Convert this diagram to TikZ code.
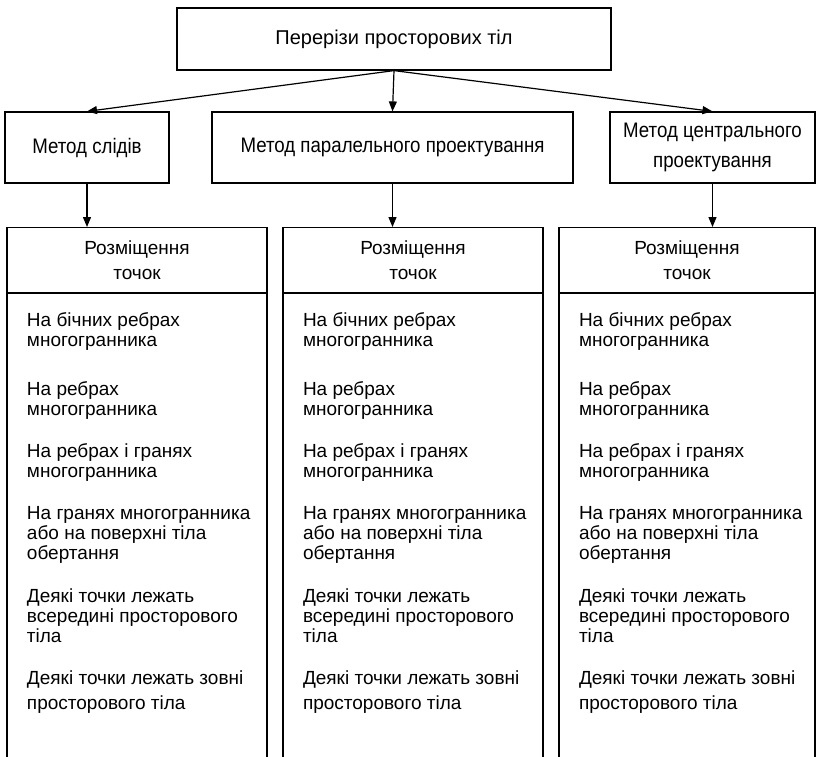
\documentclass[tikz,border=0pt]{standalone}
\usepackage{fontspec}
\setmainfont{Liberation Sans}
\newfontfamily\headfont[FakeStretch=0.89]{Liberation Sans}
\usetikzlibrary{arrows.meta,positioning}

\begin{document}
\begin{tikzpicture}[x=1pt,y=-1pt,line width=1.2pt,
    box/.style={draw,inner sep=0pt,align=center,font=\headfont\fontsize{21}{30}\selectfont},
    hdr/.style={draw,inner sep=0pt,minimum width=260pt,minimum height=65pt,
      anchor=north,align=center,font=\fontsize{19}{25}\selectfont},
    col/.style={draw,inner sep=0pt,minimum width=260pt,minimum height=520pt},
    item/.style={anchor=north west,inner sep=0pt,align=left,font=\fontsize{19}{20}\selectfont},
    arr/.style={-{Triangle[length=10pt,width=8pt]}}]
    \useasboundingbox (0,0) rectangle (816,756);
    \clip (0,0) rectangle (816,756);
    \node[box,font=\fontsize{20}{30}\selectfont,minimum width=434pt,minimum height=62pt] (title) at (394,39) {Перерізи просторових тіл};
    \node[box,minimum width=164pt,minimum height=71pt] (slid) at (87,147.5) {Метод слідів};
    \node[box,minimum width=361pt,minimum height=71pt] (paral) at (392.5,147.5) {Метод паралельного проектування};
    \node[box,minimum width=205pt,minimum height=71pt] (centr) at (712.5,147.5) {Метод центрального\\проектування};
    \draw[arr] (title.south) -- (slid.north);
    \draw[arr] (title.south) -- (paral.north);
    \draw[arr] (title.south) -- (centr.north);
    \node[hdr] (h1) at (137,227) {Розміщення\\точок};
    \node[hdr] (h2) at (413,227) {Розміщення\\точок};
    \node[hdr,minimum width=256pt] (h3) at (687,227) {Розміщення\\точок};
    \node[col,below=0pt of h1] (c1) {};
    \node[col,below=0pt of h2] (c2) {};
    \node[col,minimum width=256pt,below=0pt of h3] (c3) {};
    \draw[arr] (slid.south) -- (slid.south |- h1.north);
    \draw[arr] (paral.south) -- (paral.south |- h2.north);
    \draw[arr] (centr.south) -- (centr.south |- h3.north);
    \foreach \c in {1,2,3}{
      \coordinate (x\c) at ([xshift=20pt]c\c.west);
      \node[item] (t\c a) at (x\c |- 0,312) {На бічних ребрах\\многогранника};
      \node[item] (t\c b) at (x\c |- 0,381) {На ребрах\\многогранника};
      \node[item] (t\c c) at (x\c |- 0,443) {На ребрах і гранях\\многогранника};
      \node[item] (t\c d) at (x\c |- 0,506) {На гранях многогранника\\або на поверхні тіла\\обертання};
      \node[item] (t\c e) at (x\c |- 0,588) {Деякі точки лежать\\всередині просторового\\тіла};
      \node[item] (t\c f) at (x\c |- 0,670) {Деякі точки лежать зовні\\[5pt]просторового тіла};
    }
\end{tikzpicture}
\end{document}
